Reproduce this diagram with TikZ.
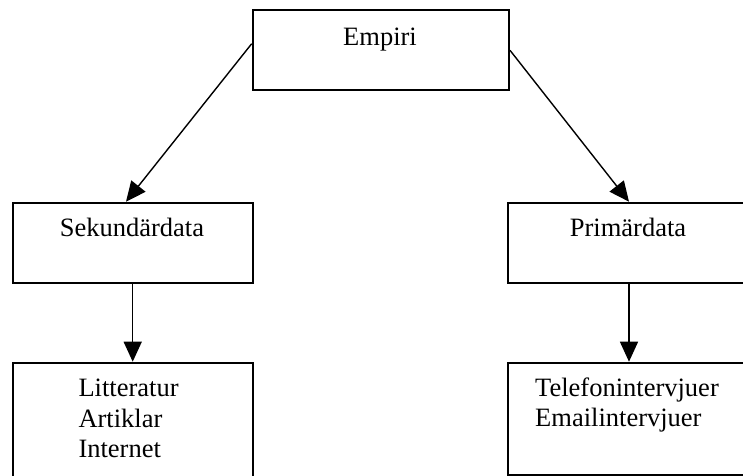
\documentclass[tikz,border=0pt]{standalone}
\usepackage{fontspec}
\setmainfont{Liberation Serif}
\usetikzlibrary{arrows.meta}
\begin{document}
\begin{tikzpicture}[x=1pt,y=-1pt,
  box/.style={draw=black,line width=2pt,rectangle,inner sep=0pt,anchor=north west},
  lbl/.style={inner sep=0pt,font=\fontsize{26.5}{30.5}\selectfont},
  link/.style={line width=1.4pt,-{Triangle[length=20pt,width=18pt]}}]
\useasboundingbox (0,0) rectangle (743,475);
\clip (0,0) rectangle (743,475);
% boxes
\node[box,minimum width=256.3pt,minimum height=80pt] (empiri) at (251.7,9.3) {};
\node[box,minimum width=240pt,minimum height=80pt] (sek) at (11.7,201.7) {};
\node[box,minimum width=241.4pt,minimum height=80pt] (prim) at (507.3,201.7) {};
\node[box,minimum width=240pt,minimum height=120pt] (lit) at (11.7,361.7) {};
\node[box,minimum width=241.4pt,minimum height=111.8pt] (tel) at (507.3,361.7) {};
% texts
\node[lbl,anchor=base] (tE) at (380,45) {Empiri};
\node[lbl,anchor=base] (tS) at (132,236) {Sekundärdata};
\node[lbl,anchor=base] (tP) at (628,236) {Primärdata};
\node[lbl,anchor=base west] (tL1) at (78.3,396.7) {Litteratur};
\node[lbl,anchor=base west] (tL2) at (78.3,427.2) {Artiklar};
\node[lbl,anchor=base west] (tL3) at (78.3,457.5) {Internet};
\node[lbl,anchor=base west] (tT1) at (535,396.7) {Telefonintervjuer};
\node[lbl,anchor=base west] (tT2) at (535,426.7) {Emailintervjuer};
% connectors
\draw[link] ([yshift=6.6pt]empiri.west) -- ([xshift=-6.7pt]sek.north);
\draw[link] (empiri.east) -- (prim.north);
\draw[link] (sek.south) -- (lit.north);
\draw[link] (prim.south) -- (tel.north);
\end{tikzpicture}
\end{document}
